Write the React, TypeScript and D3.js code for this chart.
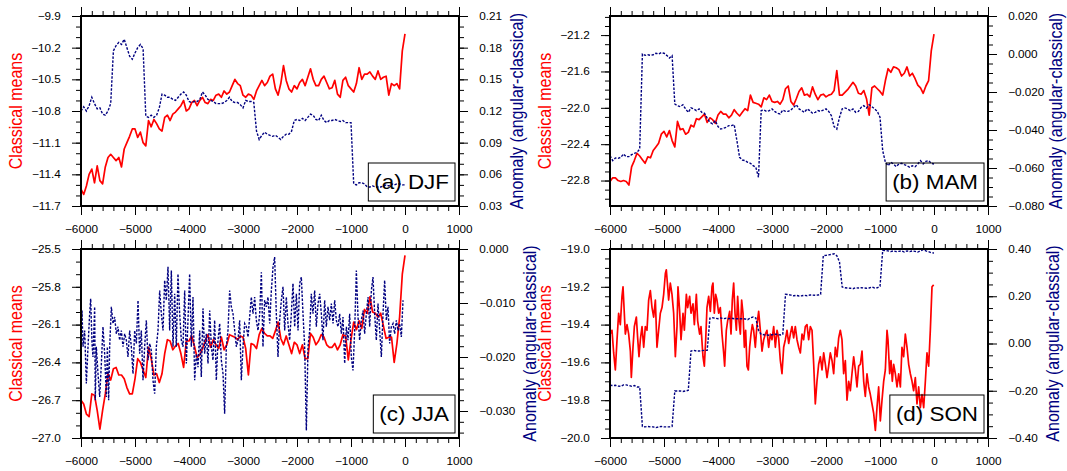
import React, { useEffect, useRef } from "react";
import * as d3 from "d3";

// sample years: every 50 years from 6000 BP to present
const YEARS = d3.range(-6000, 1, 50);

const djfClassical = [
  -11.54, -11.59, -11.51, -11.4, -11.35, -11.48, -11.32, -11.46, -11.49, -11.33,
  -11.24, -11.21, -11.24, -11.27, -11.24, -11.33, -11.16, -11.1, -11.04, -10.97,
  -10.97, -11.05, -11.0, -11.1, -11.13, -10.89, -10.95, -10.88, -10.92, -10.97,
  -10.99, -10.86, -10.84, -10.89, -10.83, -10.81, -10.78, -10.75, -10.7, -10.8,
  -10.78, -10.72, -10.7, -10.75, -10.7, -10.67, -10.72, -10.73, -10.69, -10.7,
  -10.65, -10.64, -10.67, -10.61, -10.64, -10.62, -10.56, -10.5, -10.54, -10.56,
  -10.65, -10.67, -10.64, -10.65, -10.69, -10.61, -10.56, -10.51, -10.56, -10.53,
  -10.47, -10.45, -10.59, -10.65, -10.54, -10.37, -10.51, -10.59, -10.62, -10.56,
  -10.59, -10.53, -10.5, -10.56, -10.48, -10.4, -10.5, -10.56, -10.56, -10.5,
  -10.47, -10.53, -10.59, -10.58, -10.51, -10.64, -10.67, -10.51, -10.48, -10.56,
  -10.59, -10.62, -10.54, -10.39, -10.5, -10.45, -10.45, -10.43, -10.47, -10.5,
  -10.42, -10.5, -10.48, -10.47, -10.65, -10.54, -10.56, -10.54, -10.59, -10.23,
  -10.07,
];

const djfAnomaly = [
  0.12, 0.124, 0.12, 0.125, 0.133, 0.127, 0.122, 0.123, 0.117, 0.116,
  0.12, 0.127, 0.177, 0.182, 0.185, 0.183, 0.188, 0.18, 0.172, 0.169,
  0.175, 0.18, 0.183, 0.179, 0.115, 0.114, 0.116, 0.114, 0.116, 0.123,
  0.136, 0.135, 0.133, 0.133, 0.131, 0.13, 0.133, 0.136, 0.138, 0.135,
  0.129, 0.128, 0.129, 0.129, 0.131, 0.138, 0.135, 0.131, 0.13, 0.129,
  0.127, 0.127, 0.127, 0.128, 0.13, 0.133, 0.129, 0.128, 0.128, 0.126,
  0.123, 0.13, 0.129, 0.129, 0.128, 0.101, 0.093, 0.097, 0.1, 0.098,
  0.097, 0.096, 0.097, 0.095, 0.093, 0.096, 0.098, 0.098, 0.101, 0.111,
  0.112, 0.111, 0.113, 0.111, 0.114, 0.117, 0.116, 0.112, 0.111, 0.116,
  0.111, 0.109, 0.111, 0.111, 0.112, 0.111, 0.11, 0.111, 0.109, 0.109,
  0.109, 0.051, 0.05, 0.052, 0.052, 0.051, 0.048, 0.048, 0.049, 0.048,
  0.048, 0.048, 0.049, 0.05, 0.049, 0.051, 0.05, 0.051, 0.051, 0.05,
  0.05,
];

const mamClassical = [
  -22.81, -22.77, -22.77, -22.8, -22.81, -22.8, -22.81, -22.85, -22.65, -22.58,
  -22.5, -22.53, -22.57, -22.61, -22.54, -22.55, -22.47, -22.43, -22.39, -22.29,
  -22.26, -22.32, -22.25, -22.36, -22.43, -22.15, -22.24, -22.23, -22.29, -22.27,
  -22.19, -22.21, -22.12, -22.13, -22.1, -22.07, -22.16, -22.11, -22.13, -22.17,
  -22.08, -22.04, -22.07, -22.07, -22.11, -22.08, -22.02, -22.06, -22.09, -22.05,
  -22.01, -22.03, -21.86, -21.94, -21.95, -21.96, -21.99, -21.89, -21.91, -21.86,
  -21.93, -21.94, -21.93, -21.96, -21.91, -21.79, -21.76, -21.93, -21.97, -21.9,
  -21.82, -21.78, -21.86, -21.85, -21.88, -21.77, -21.85, -21.91, -21.86, -21.85,
  -21.88, -21.86, -21.85, -21.81, -21.59, -21.86, -21.86, -21.83, -21.8, -21.76,
  -21.72, -21.76, -21.84, -21.85, -21.81, -21.9, -22.08, -21.78, -21.76, -21.79,
  -21.82, -21.86, -21.7, -21.57, -21.61, -21.55, -21.56, -21.58, -21.65, -21.62,
  -21.55, -21.65, -21.62, -21.68, -21.75, -21.78, -21.84, -21.76, -21.7, -21.37,
  -21.19,
];

const mamAnomaly = [
  -0.0535, -0.0561, -0.0547, -0.0549, -0.0544, -0.0526, -0.054, -0.054, -0.053, -0.0523,
  -0.0518, -0.05, 0.0, -0.0007, -0.0004, -0.0007, -0.0004, 0.0004, 0.0, 0.0007,
  0.0004, -0.0007, -0.0021, -0.0009, -0.0263, -0.0272, -0.0277, -0.0267, -0.0289, -0.0307,
  -0.0284, -0.0289, -0.0298, -0.0289, -0.0307, -0.0312, -0.0337, -0.036, -0.0368, -0.0351,
  -0.0382, -0.0395, -0.0391, -0.0386, -0.0377, -0.0377, -0.0372, -0.0456, -0.0544, -0.0558,
  -0.0561, -0.057, -0.0575, -0.0588, -0.0596, -0.0649, -0.0298, -0.0295, -0.0302, -0.0298,
  -0.0289, -0.0302, -0.0312, -0.0316, -0.0295, -0.0302, -0.0302, -0.0295, -0.0281, -0.0267,
  -0.0289, -0.0298, -0.0307, -0.0289, -0.0298, -0.0312, -0.0307, -0.0298, -0.0302, -0.0295,
  -0.0289, -0.0302, -0.0325, -0.0382, -0.0395, -0.0333, -0.0289, -0.0284, -0.0289, -0.0298,
  -0.0289, -0.0307, -0.0302, -0.0281, -0.0272, -0.0284, -0.0267, -0.0277, -0.0289, -0.0302,
  -0.0333, -0.0509, -0.057, -0.0588, -0.057, -0.0579, -0.0593, -0.0579, -0.0575, -0.0582,
  -0.0588, -0.0596, -0.0588, -0.0593, -0.0579, -0.0561, -0.0579, -0.0565, -0.0561, -0.0575,
  -0.0579,
];

const jjaClassical = [
  -26.7, -26.73, -26.81, -26.83, -26.65, -26.66, -26.78, -26.93, -26.78, -26.65,
  -26.49, -26.54, -26.45, -26.44, -26.5, -26.5, -26.53, -26.6, -26.65, -26.65,
  -26.53, -26.37, -26.4, -26.46, -26.52, -26.28, -26.37, -26.5, -26.49, -26.56,
  -26.49, -26.33, -26.22, -26.23, -26.3, -26.27, -26.25, -26.33, -26.44, -26.23,
  -26.23, -26.19, -26.27, -26.36, -26.34, -26.29, -26.23, -26.18, -26.28, -26.22,
  -26.26, -26.29, -26.2, -26.3, -26.26, -26.18, -26.19, -26.2, -26.22, -26.19,
  -26.2, -26.29, -26.5, -26.25, -26.26, -26.29, -26.18, -26.13, -26.17, -26.19,
  -26.19, -26.21, -26.15, -26.08, -26.21, -26.26, -26.19, -26.26, -26.33, -26.24,
  -26.26, -26.33, -26.26, -26.37, -26.37, -26.17, -26.2, -26.26, -26.23, -26.18,
  -26.2, -26.26, -26.28, -26.28, -26.25, -26.3, -26.26, -26.18, -26.19, -26.38,
  -26.22, -26.08, -26.14, -26.07, -26.13, -25.98, -26.01, -25.88, -26.0, -26.01,
  -26.04, -26.01, -26.11, -26.21, -26.2, -26.2, -26.4, -26.25, -26.04, -25.7,
  -25.55,
];

// JJA anomaly is much noisier, so it is read at a finer spacing
const jjaAnomalyYears = [
  -6000, -5981, -5963, -5932, -5901, -5870, -5840, -5821, -5796, -5778,
  -5747, -5735, -5716, -5685, -5654, -5623, -5593, -5562, -5531, -5512,
  -5488, -5469, -5438, -5407, -5376, -5346, -5315, -5284, -5253, -5222,
  -5191, -5160, -5130, -5099, -5068, -5037, -5006, -4975, -4944, -4914,
  -4883, -4852, -4821, -4790, -4759, -4728, -4698, -4667, -4636, -4605,
  -4574, -4543, -4512, -4481, -4451, -4420, -4389, -4358, -4327, -4296,
  -4265, -4235, -4204, -4173, -4142, -4111, -4080, -4049, -4019, -3988,
  -3957, -3926, -3895, -3864, -3833, -3802, -3772, -3741, -3710, -3679,
  -3648, -3617, -3586, -3556, -3525, -3494, -3463, -3432, -3401, -3370,
  -3340, -3327, -3309, -3278, -3247, -3216, -3185, -3154, -3123, -3093,
  -3062, -3031, -3000, -2969, -2938, -2907, -2877, -2846, -2815, -2784,
  -2753, -2722, -2691, -2660, -2630, -2599, -2568, -2537, -2506, -2475,
  -2444, -2414, -2383, -2352, -2321, -2290, -2259, -2228, -2198, -2167,
  -2136, -2105, -2074, -2043, -2012, -1981, -1951, -1920, -1889, -1858,
  -1827, -1796, -1765, -1735, -1704, -1673, -1642, -1611, -1580, -1549,
  -1519, -1488, -1457, -1426, -1395, -1364, -1333, -1302, -1272, -1241,
  -1210, -1179, -1148, -1117, -1086, -1056, -1025, -994, -963, -932,
  -901, -870, -840, -809, -778, -747, -716, -685, -654, -623,
  -593, -562, -531, -500, -469, -438, -407, -377, -346, -315,
  -284, -253, -222, -191, -160, -130, -99, -68, -37,
];

const jjaAnomaly = [
  -0.0144, -0.0114, -0.0181, -0.0151, -0.0249, -0.0181, -0.012, -0.0092, -0.0175, -0.02,
  -0.0107, -0.028, -0.0181, -0.0231, -0.0274, -0.0212, -0.0144, -0.0194, -0.0274, -0.0181,
  -0.028, -0.0181, -0.0107, -0.0138, -0.0126, -0.0157, -0.0144, -0.0169, -0.0151, -0.0181,
  -0.0157, -0.0169, -0.02, -0.0151, -0.0181, -0.0231, -0.0151, -0.0175, -0.0095, -0.0194,
  -0.0151, -0.0243, -0.0181, -0.0132, -0.0206, -0.0175, -0.0188, -0.0243, -0.0268, -0.0181,
  -0.0151, -0.0077, -0.012, -0.0151, -0.0058, -0.0095, -0.0033, -0.0151, -0.004, -0.0181,
  -0.0083, -0.0181, -0.0046, -0.012, -0.0169, -0.0181, -0.0077, -0.0212, -0.0132, -0.0046,
  -0.0181, -0.0089, -0.0243, -0.0194, -0.0219, -0.0151, -0.0237, -0.011, -0.0194, -0.0157,
  -0.0212, -0.0114, -0.0181, -0.0206, -0.0132, -0.0243, -0.0169, -0.0138, -0.0206, -0.0231,
  -0.0305, -0.0256, -0.0181, -0.0151, -0.0077, -0.0107, -0.012, -0.0151, -0.0181, -0.0169,
  -0.0132, -0.0243, -0.0181, -0.0138, -0.0144, -0.0163, -0.0126, -0.0089, -0.012, -0.0089,
  -0.0132, -0.0151, -0.012, -0.0043, -0.0181, -0.0095, -0.0107, -0.0089, -0.0138, -0.0077,
  -0.0033, -0.0015, -0.012, -0.02, -0.0132, -0.0095, -0.007, -0.0151, -0.0089, -0.0138,
  -0.0169, -0.012, -0.0064, -0.0144, -0.0083, -0.0151, -0.0064, -0.0052, -0.012, -0.0181,
  -0.0336, -0.0181, -0.0151, -0.0083, -0.012, -0.0077, -0.0144, -0.0101, -0.0083, -0.012,
  -0.0169, -0.0095, -0.0144, -0.0107, -0.0132, -0.0101, -0.0138, -0.0095, -0.0132, -0.0144,
  -0.012, -0.0157, -0.0126, -0.0212, -0.0144, -0.0169, -0.012, -0.02, -0.0225, -0.0151,
  -0.004, -0.0126, -0.0169, -0.0132, -0.0114, -0.0157, -0.012, -0.0089, -0.0144, -0.0077,
  -0.0052, -0.012, -0.0169, -0.0101, -0.0151, -0.02, -0.012, -0.0058, -0.0132, -0.0107,
  -0.0175, -0.0144, -0.0138, -0.0157, -0.0132, -0.0151, -0.0138, -0.0163, -0.0095,
];

// SON classical means, also read at a finer spacing
const sonClassicalYears = [
  -6000, -5963, -5932, -5901, -5870, -5840, -5809, -5778, -5759, -5735,
  -5716, -5685, -5654, -5623, -5605, -5574, -5549, -5512, -5488, -5463,
  -5438, -5407, -5376, -5346, -5315, -5284, -5253, -5222, -5191, -5160,
  -5130, -5099, -5068, -5037, -5006, -4975, -4957, -4932, -4914, -4883,
  -4852, -4821, -4790, -4759, -4741, -4710, -4685, -4648, -4623, -4586,
  -4562, -4525, -4500, -4463, -4438, -4401, -4377, -4340, -4315, -4278,
  -4253, -4228, -4204, -4173, -4142, -4111, -4093, -4068, -4043, -4019,
  -3988, -3957, -3926, -3895, -3877, -3846, -3821, -3784, -3759, -3735,
  -3710, -3685, -3660, -3636, -3611, -3586, -3562, -3537, -3512, -3488,
  -3463, -3438, -3414, -3389, -3364, -3340, -3309, -3278, -3247, -3216,
  -3185, -3154, -3123, -3093, -3062, -3031, -3000, -2969, -2938, -2907,
  -2877, -2846, -2815, -2784, -2753, -2722, -2691, -2660, -2630, -2599,
  -2568, -2537, -2506, -2475, -2444, -2414, -2383, -2352, -2321, -2290,
  -2259, -2228, -2198, -2167, -2136, -2105, -2074, -2043, -2012, -1981,
  -1951, -1920, -1889, -1858, -1827, -1796, -1765, -1735, -1704, -1673,
  -1642, -1611, -1580, -1549, -1519, -1488, -1457, -1426, -1395, -1364,
  -1333, -1302, -1272, -1241, -1210, -1179, -1148, -1117, -1086, -1056,
  -1025, -994, -963, -932, -901, -870, -852, -821, -796, -772,
  -747, -716, -685, -654, -623, -593, -562, -531, -500, -469,
  -438, -407, -377, -346, -315, -284, -253, -222, -191, -160,
  -130, -99, -68, -37, -6,
];

const sonClassical = [
  -19.45, -19.43, -19.55, -19.64, -19.48, -19.34, -19.4, -19.25, -19.2, -19.34,
  -19.45, -19.4, -19.45, -19.54, -19.68, -19.52, -19.41, -19.36, -19.47, -19.57,
  -19.48, -19.41, -19.52, -19.41, -19.43, -19.27, -19.22, -19.31, -19.36, -19.27,
  -19.52, -19.43, -19.34, -19.31, -19.24, -19.13, -19.11, -19.2, -19.27, -19.18,
  -19.24, -19.34, -19.57, -19.41, -19.2, -19.33, -19.48, -19.34, -19.43, -19.24,
  -19.31, -19.25, -19.34, -19.29, -19.4, -19.24, -19.38, -19.45, -19.41, -19.57,
  -19.62, -19.48, -19.31, -19.25, -19.33, -19.2, -19.18, -19.34, -19.24, -19.27,
  -19.34, -19.31, -19.45, -19.55, -19.62, -19.43, -19.38, -19.33, -19.45, -19.27,
  -19.18, -19.34, -19.43, -19.25, -19.38, -19.45, -19.27, -19.34, -19.52, -19.43,
  -19.62, -19.64, -19.52, -19.45, -19.4, -19.43, -19.52, -19.4, -19.33, -19.43,
  -19.54, -19.48, -19.45, -19.43, -19.52, -19.45, -19.48, -19.41, -19.52, -19.43,
  -19.47, -19.59, -19.66, -19.52, -19.48, -19.43, -19.5, -19.45, -19.41, -19.47,
  -19.41, -19.48, -19.52, -19.55, -19.45, -19.48, -19.41, -19.4, -19.48, -19.41,
  -19.43, -19.61, -19.82, -19.7, -19.61, -19.57, -19.64, -19.55, -19.61, -19.68,
  -19.62, -19.55, -19.59, -19.66, -19.52, -19.57, -19.47, -19.43, -19.48, -19.66,
  -19.59, -19.8, -19.7, -19.75, -19.66, -19.57, -19.64, -19.73, -19.62, -19.61,
  -19.54, -19.7, -19.78, -19.66, -19.73, -19.77, -19.82, -19.87, -19.96, -19.84,
  -19.73, -19.91, -19.8, -19.7, -19.64, -19.43, -19.48, -19.66, -19.59, -19.7,
  -19.61, -19.66, -19.73, -19.66, -19.73, -19.52, -19.57, -19.45, -19.52, -19.61,
  -19.66, -19.7, -19.75, -19.68, -19.82, -19.73, -19.84, -19.77, -19.84, -19.7,
  -19.55, -19.62, -19.43, -19.2, -19.19,
];

const sonAnomaly = [
  -0.177, -0.178, -0.177, -0.18, -0.181, -0.175, -0.175, -0.178, -0.181, -0.178,
  -0.184, -0.184, -0.351, -0.353, -0.351, -0.353, -0.353, -0.356, -0.353, -0.351,
  -0.353, -0.353, -0.353, -0.351, -0.201, -0.201, -0.201, -0.203, -0.201, -0.198,
  -0.032, -0.029, -0.032, -0.032, -0.03, -0.029, -0.029, 0.107, 0.109, 0.107,
  0.105, 0.108, 0.105, 0.107, 0.105, 0.107, 0.105, 0.105, 0.105, 0.105,
  0.104, 0.101, 0.109, 0.112, 0.108, 0.056, 0.039, 0.037, 0.036, 0.035,
  0.037, 0.039, 0.039, 0.036, 0.039, 0.208, 0.207, 0.205, 0.202, 0.204,
  0.201, 0.202, 0.204, 0.202, 0.205, 0.205, 0.204, 0.205, 0.208, 0.372,
  0.373, 0.375, 0.377, 0.38, 0.372, 0.345, 0.239, 0.236, 0.235, 0.234,
  0.232, 0.236, 0.235, 0.236, 0.235, 0.234, 0.235, 0.239, 0.235, 0.236,
  0.242, 0.394, 0.393, 0.392, 0.389, 0.392, 0.389, 0.39, 0.392, 0.387,
  0.392, 0.389, 0.392, 0.39, 0.387, 0.392, 0.397, 0.392, 0.389, 0.384,
  0.383,
];

const xTicks = [-6000, -5000, -4000, -3000, -2000, -1000, 0, 1000];
const djfLeftTicks = [-9.9, -10.2, -10.5, -10.8, -11.1, -11.4, -11.7];
const djfRightTicks = [0.21, 0.18, 0.15, 0.12, 0.09, 0.06, 0.03];
const mamLeftTicks = [-21.2, -21.6, -22.0, -22.4, -22.8];
const mamRightTicks = [0.02, 0.0, -0.02, -0.04, -0.06, -0.08];
const jjaLeftTicks = [-25.5, -25.8, -26.1, -26.4, -26.7, -27.0];
const jjaRightTicks = [0.0, -0.01, -0.02, -0.03];
const sonLeftTicks = [-19.0, -19.2, -19.4, -19.6, -19.8, -20.0];
const sonRightTicks = [0.4, 0.2, 0.0, -0.2, -0.4];

const RED = "#ff0000";
const BLUE = "#000080";
const FONT = "'Liberation Sans', Arial, Helvetica, sans-serif";
const STRETCH = 1.12; // the original lettering is a little wide

const panels = [
  {
    label: "(a) DJF", col: 0, row: 0,
    classical: djfClassical, classicalYears: YEARS,
    anomaly: djfAnomaly, anomalyYears: YEARS,
    left: [-11.7, -9.9], leftTicks: djfLeftTicks, leftMinor: 0.1, leftFmt: ".1f",
    right: [0.03, 0.21], rightTicks: djfRightTicks, rightMinor: 0.01, rightFmt: ".2f",
  },
  {
    label: "(b) MAM", col: 1, row: 0,
    classical: mamClassical, classicalYears: YEARS,
    anomaly: mamAnomaly, anomalyYears: YEARS,
    left: [-23.08, -20.99], leftTicks: mamLeftTicks, leftMinor: 0.1, leftFmt: ".1f",
    right: [-0.08, 0.02], rightTicks: mamRightTicks, rightMinor: 0.005, rightFmt: ".3f",
  },
  {
    label: "(c) JJA", col: 0, row: 1,
    classical: jjaClassical, classicalYears: YEARS,
    anomaly: jjaAnomaly, anomalyYears: jjaAnomalyYears,
    left: [-27.0, -25.5], leftTicks: jjaLeftTicks, leftMinor: 0.1, leftFmt: ".1f",
    right: [-0.035, 0.0], rightTicks: jjaRightTicks, rightMinor: 0.002, rightFmt: ".3f",
  },
  {
    label: "(d) SON", col: 1, row: 1,
    classical: sonClassical, classicalYears: sonClassicalYears,
    anomaly: sonAnomaly, anomalyYears: YEARS,
    left: [-20.0, -19.0], leftTicks: sonLeftTicks, leftMinor: 0.05, leftFmt: ".1f",
    right: [-0.4, 0.4], rightTicks: sonRightTicks, rightMinor: 0.05, rightFmt: ".2f",
  },
];

function minorTicks(domain: number[], step: number) {
  const start = Math.ceil(domain[0] / step - 1e-6) * step;
  return d3.range(start, domain[1] + step * 1e-3, step);
}

function styleAxis(sel: any) {
  sel.select(".domain").remove();
  sel.selectAll("line").attr("stroke", "#000").attr("stroke-width", 1);
  sel
    .selectAll("text")
    .attr("font-size", 10.5)
    .attr("font-family", FONT)
    .attr("fill", "#000")
    .attr("transform", `scale(${STRETCH},1)`);
}

function maxLabel(sel: any) {
  return d3.max(sel.selectAll("text").nodes(), (n: any) => n.getComputedTextLength()) || 0;
}

function drawPanel(svg: any, p: any, idx: number) {
  const left = p.col === 0 ? 81 : 610;
  const top = p.row === 0 ? 16 : 249;
  const w = 378;
  const h = p.row === 0 ? 190 : 189;

  const g = svg.append("g").attr("transform", `translate(${left},${top})`);
  const x = d3.scaleLinear().domain([-6000, 1000]).range([0, w]);
  const yL = d3.scaleLinear().domain(p.left).range([h, 0]);
  const yR = d3.scaleLinear().domain(p.right).range([h, 0]);

  g.append("clipPath").attr("id", `clip${idx}`).append("rect").attr("width", w).attr("height", h);
  const plot = g.append("g").attr("clip-path", `url(#clip${idx})`);

  const lineL = d3.line<number>().x((_, i) => x(p.classicalYears[i])).y(d => yL(d));
  const lineR = d3.line<number>().x((_, i) => x(p.anomalyYears[i])).y(d => yR(d));

  plot
    .append("path")
    .datum(p.classical)
    .attr("d", lineL)
    .attr("fill", "none")
    .attr("stroke", RED)
    .attr("stroke-width", 1.7)
    .attr("stroke-linejoin", "round");

  plot
    .append("path")
    .datum(p.anomaly)
    .attr("d", lineR)
    .attr("fill", "none")
    .attr("stroke", BLUE)
    .attr("stroke-width", 1.4)
    .attr("stroke-dasharray", "2.5,1.5");

  const xMinor = minorTicks([-6000, 1000], 200);

  // bottom & top x axes
  g.append("g")
    .attr("transform", `translate(0,${h})`)
    .call(d3.axisBottom(x).tickValues(xMinor).tickSize(5).tickFormat(() => ""))
    .call(styleAxis);
  g.append("g")
    .attr("transform", `translate(0,${h})`)
    .call(d3.axisBottom(x).tickValues(xTicks).tickSize(9).tickPadding(11).tickFormat(d3.format("d")))
    .call(styleAxis);
  g.append("g").call(d3.axisTop(x).tickValues(xMinor).tickSize(5).tickFormat(() => "")).call(styleAxis);
  g.append("g").call(d3.axisTop(x).tickValues(xTicks).tickSize(9).tickFormat(() => "")).call(styleAxis);

  // left axis: classical means
  g.append("g")
    .call(d3.axisLeft(yL).tickValues(minorTicks(p.left, p.leftMinor)).tickSize(5).tickFormat(() => ""))
    .call(styleAxis);
  const leftAxis = g
    .append("g")
    .call(d3.axisLeft(yL).tickValues(p.leftTicks).tickSize(9).tickPadding(9).tickFormat(d3.format(p.leftFmt)))
    .call(styleAxis);

  // right axis: anomaly
  g.append("g")
    .attr("transform", `translate(${w},0)`)
    .call(d3.axisRight(yR).tickValues(minorTicks(p.right, p.rightMinor)).tickSize(5).tickFormat(() => ""))
    .call(styleAxis);
  const rightAxis = g
    .append("g")
    .attr("transform", `translate(${w},0)`)
    .call(d3.axisRight(yR).tickValues(p.rightTicks).tickSize(9).tickPadding(9).tickFormat(d3.format(p.rightFmt)))
    .call(styleAxis);

  g.append("rect")
    .attr("width", w)
    .attr("height", h)
    .attr("fill", "none")
    .attr("stroke", "#000")
    .attr("stroke-width", 2);

  const leftX = -(18 + maxLabel(leftAxis)) * STRETCH - 9;
  g.append("text")
    .attr("transform", `translate(${leftX},${h / 2}) scale(${STRETCH},1) rotate(-90)`)
    .attr("text-anchor", "middle")
    .attr("font-size", 16)
    .attr("font-family", FONT)
    .attr("fill", RED)
    .text("Classical means");

  // keep the right title inside the page
  const rightX = Math.min(w + (18 + maxLabel(rightAxis)) * STRETCH + 21, 1067 - left - 5);
  g.append("text")
    .attr("transform", `translate(${rightX},${h / 2}) scale(${STRETCH},1) rotate(-90)`)
    .attr("text-anchor", "middle")
    .attr("font-size", 16)
    .attr("font-family", FONT)
    .attr("fill", BLUE)
    .text("Anomaly (angular-classical)");

  // panel label in a box, bottom right
  const lab = g
    .append("text")
    .attr("text-anchor", "middle")
    .attr("font-size", 20)
    .attr("font-family", FONT)
    .attr("fill", "#000")
    .text(p.label);
  const boxW = lab.node().getComputedTextLength() * STRETCH + 12;
  const boxH = 38;
  const boxRight = w - 4;
  const boxTop = h - 5 - boxH;
  lab.attr("transform", `translate(${boxRight - boxW / 2},${boxTop + boxH / 2 + 7}) scale(${STRETCH},1)`);
  g.append("rect")
    .attr("x", boxRight - boxW)
    .attr("y", boxTop)
    .attr("width", boxW)
    .attr("height", boxH)
    .attr("fill", "none")
    .attr("stroke", "#000")
    .attr("stroke-width", 1);
}

export default function App() {
  const ref = useRef<SVGSVGElement>(null);

  useEffect(() => {
    const svg = d3.select(ref.current);
    svg.selectAll("*").remove();
    panels.forEach((p, i) => drawPanel(svg, p, i));
  }, []);

  return (
    <svg
      ref={ref}
      width={1067}
      height={471}
      style={{ position: "absolute", left: 0, top: 0, background: "#fff" }}
    />
  );
}
